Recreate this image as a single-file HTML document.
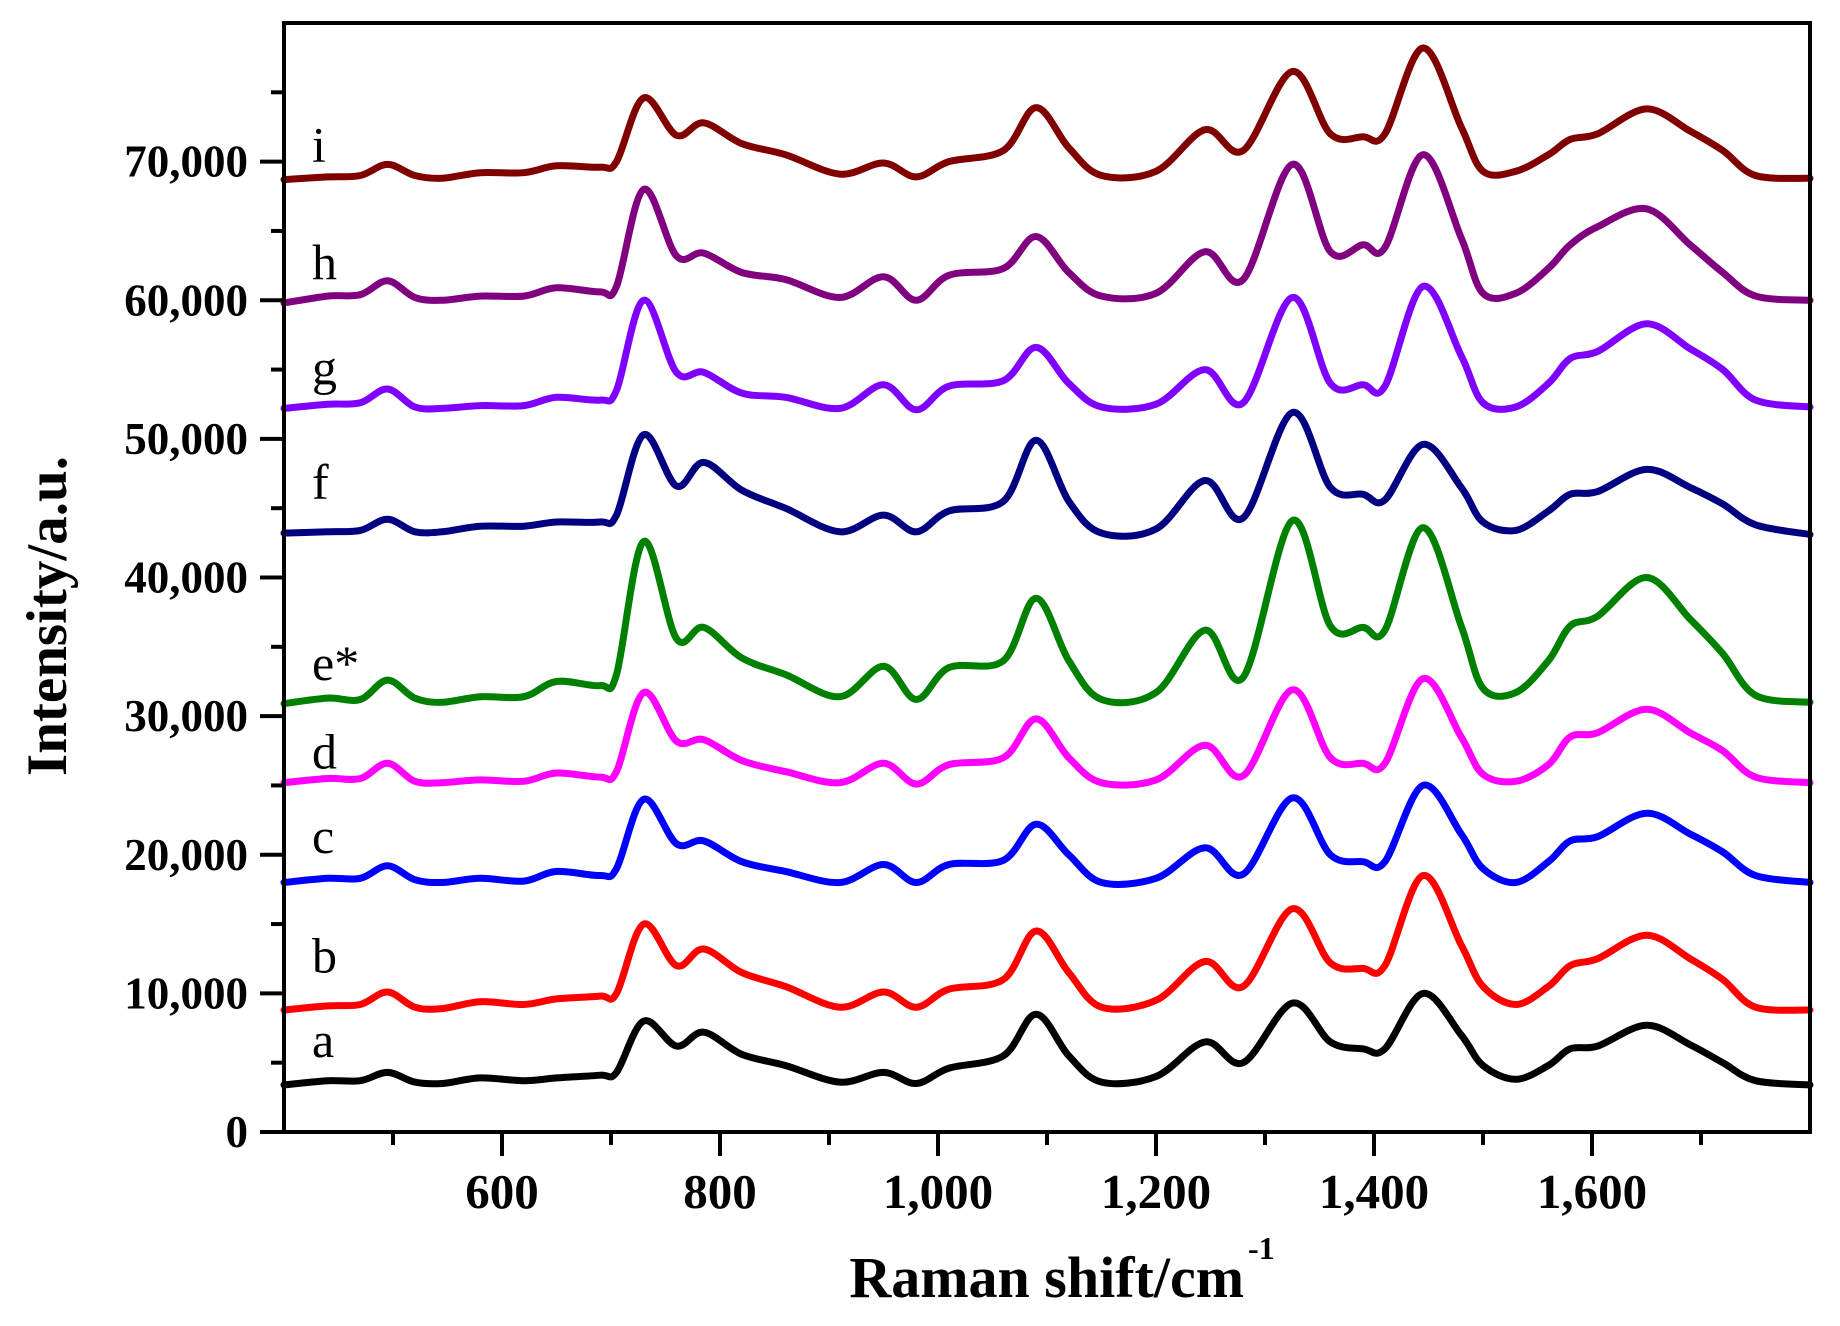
<!DOCTYPE html>
<html><head><meta charset="utf-8"><style>
html,body{margin:0;padding:0;background:#fff;}
svg{display:block;}
text{font-family:"Liberation Serif",serif;}
</style></head><body>
<svg id="chart" width="1840" height="1326" viewBox="0 0 1840 1326" xmlns="http://www.w3.org/2000/svg">
<g id="series"></g>
<g id="axes"></g>
<g id="labels"></g>
<text x="1062" y="1297" font-size="58" font-weight="bold" text-anchor="middle">Raman shift/cm<tspan font-size="32" dy="-38" dx="4">-1</tspan></text>
<text transform="translate(66,616) rotate(-90)" font-size="57" font-weight="bold" text-anchor="middle">Intensity/a.u.</text>
</svg>
<script>
const shifts=[400,440,470,495,520,545,580,620,650,690,705,730,760,785,820,860,910,950,980,1010,1060,1090,1120,1150,1200,1245,1280,1325,1360,1390,1410,1445,1480,1500,1530,1560,1580,1605,1650,1690,1720,1750,1800];
const seriesNames=["a","b","c","d","e*","f","g","h","i"];
const seriesColors=["#000000","#ff0000","#0000ff","#ff00ff","#008000","#000080","#8000ff","#800080","#800000"];
const sA=[3.4,3.7,3.7,4.3,3.6,3.5,3.9,3.7,3.9,4.1,4.3,8.0,6.2,7.2,5.6,4.8,3.6,4.3,3.5,4.6,5.5,8.5,5.5,3.6,4.0,6.5,5.0,9.3,6.5,6.0,6.0,10.0,7.0,4.8,3.8,4.8,6.0,6.2,7.7,6.3,5.0,3.7,3.4];
const sB=[8.8,9.1,9.2,10.1,9.0,8.9,9.4,9.2,9.6,9.8,10.0,15.0,12.0,13.2,11.5,10.5,9.0,10.1,9.0,10.3,11.0,14.5,11.5,9.0,9.5,12.3,10.5,16.1,12.2,11.8,12.0,18.5,13.5,10.5,9.2,10.5,12.0,12.5,14.2,12.5,11.0,9.0,8.8];
const sC=[18.0,18.3,18.3,19.2,18.2,18.0,18.3,18.1,18.8,18.5,19.0,24.0,20.8,21.0,19.5,18.8,18.0,19.3,18.0,19.3,19.6,22.2,20.0,18.0,18.3,20.5,18.6,24.1,20.0,19.5,19.5,25.0,21.5,19.0,18.0,19.5,21.0,21.3,23.0,21.5,20.2,18.5,18.0];
const sD=[25.2,25.5,25.5,26.6,25.3,25.2,25.4,25.3,25.9,25.6,26.0,31.7,28.2,28.3,26.8,26.0,25.2,26.6,25.1,26.5,27.0,29.8,27.0,25.2,25.4,27.9,25.7,31.9,27.0,26.6,26.6,32.7,28.5,25.8,25.3,26.5,28.5,28.8,30.5,28.8,27.5,25.6,25.2];
const sE=[30.9,31.3,31.2,32.6,31.3,31.0,31.4,31.4,32.5,32.2,33.0,42.6,35.6,36.4,34.2,33.0,31.4,33.6,31.2,33.5,34.0,38.5,34.0,31.2,31.7,36.2,32.8,44.1,36.5,36.4,36.2,43.6,36.5,32.0,31.7,34.0,36.5,37.2,40.0,37.0,34.5,31.5,31.0];
const sF=[43.2,43.3,43.4,44.2,43.3,43.3,43.7,43.7,44.0,44.0,44.5,50.3,46.6,48.3,46.3,45.0,43.3,44.5,43.3,44.8,45.5,49.9,45.5,43.2,43.5,47.0,44.3,51.9,46.5,46.0,45.6,49.6,46.5,44.0,43.4,44.8,46.0,46.2,47.8,46.5,45.3,43.8,43.1];
const sG=[52.2,52.5,52.6,53.6,52.3,52.2,52.4,52.4,53.0,52.8,53.5,60.0,54.8,54.8,53.3,53.0,52.2,53.9,52.1,53.8,54.2,56.6,54.0,52.3,52.5,55.0,52.6,60.2,54.0,53.9,53.8,61.0,56.0,52.6,52.3,54.0,55.8,56.3,58.3,56.5,55.0,52.8,52.3];
const sH=[59.8,60.3,60.4,61.4,60.2,60.0,60.3,60.3,60.9,60.6,61.0,68.0,63.2,63.4,62.0,61.5,60.2,61.7,60.0,61.8,62.3,64.6,62.0,60.3,60.5,63.5,61.5,69.8,63.5,64.0,63.8,70.5,64.5,60.5,60.5,62.3,64.0,65.3,66.6,64.0,62.0,60.3,60.0];
const sI=[68.7,68.9,69.0,69.8,69.0,68.8,69.2,69.2,69.7,69.6,70.0,74.6,71.9,72.8,71.3,70.5,69.1,69.9,68.9,70.0,70.8,73.9,71.0,69.0,69.3,72.3,70.8,76.5,72.0,71.8,72.0,78.2,72.5,69.3,69.3,70.5,71.6,72.0,73.8,72.2,70.8,69.0,68.8];
const allSeries=[sA,sB,sC,sD,sE,sF,sG,sH,sI];
const yTickValues=[0,10000,20000,30000,40000,50000,60000,70000];
const yTickLabels=["0","10,000","20,000","30,000","40,000","50,000","60,000","70,000"];
const xTickValues=[600,800,1000,1200,1400,1600];
const xTickLabels=["600","800","1,000","1,200","1,400","1,600"];
const labelValues=[6.5,12.6,21.2,27.3,33.7,46.75,55.0,62.6,71.1];

const X0=284,X1=1810,Y0=1132,Y1=23;
const xMin=400,xMax=1800,yMin=0,yMax=80000;
function xs(v){return X0+(v-xMin)/(xMax-xMin)*(X1-X0);}
function ys(v){return Y0-(v-yMin)/(yMax-yMin)*(Y0-Y1);}
const NS="http://www.w3.org/2000/svg";
function mk(tag,attrs,parent){const e=document.createElementNS(NS,tag);for(const k in attrs)e.setAttribute(k,attrs[k]);parent.appendChild(e);return e;}

const gS=document.getElementById('series');
allSeries.forEach((vals,si)=>{
  const pts=vals.map((v,i)=>[xs(shifts[i]),ys(v*1000)]);
  let d="M"+pts[0][0].toFixed(1)+","+pts[0][1].toFixed(1);
  for(let i=0;i<pts.length-1;i++){
    const p0=pts[Math.max(0,i-1)],p1=pts[i],p2=pts[i+1],p3=pts[Math.min(pts.length-1,i+2)];
    const c1=[p1[0]+(p2[0]-p0[0])/6,p1[1]+(p2[1]-p0[1])/6];
    const c2=[p2[0]-(p3[0]-p1[0])/6,p2[1]-(p3[1]-p1[1])/6];
    d+=" C"+c1[0].toFixed(1)+","+c1[1].toFixed(1)+" "+c2[0].toFixed(1)+","+c2[1].toFixed(1)+" "+p2[0].toFixed(1)+","+p2[1].toFixed(1);
  }
  const p=mk('path',{d:d,fill:'none',stroke:seriesColors[si],'stroke-width':7,'stroke-linejoin':'round','stroke-linecap':'round'},gS);
  
  
});

const gA=document.getElementById('axes');
const frame=mk('rect',{x:X0,y:Y1,width:X1-X0,height:Y0-Y1,fill:'none',stroke:'#000','stroke-width':4},gA);


for(let v=5000;v<=75000;v+=5000){
  const major=v%10000===0;
  const t=mk('line',{x1:X0-(major?24:13),x2:X0,y1:ys(v),y2:ys(v),stroke:'#000','stroke-width':4},gA);
  
  
}
mk('line',{x1:X0-24,x2:X0,y1:Y0,y2:Y0,stroke:'#000','stroke-width':4},gA);
yTickValues.forEach((v,i)=>{
  const t=mk('text',{x:248,y:ys(v)+15,'font-size':45,'font-weight':'bold','text-anchor':'end'},gA);
  t.textContent=yTickLabels[i];
  
  
});
for(let v=500;v<=1700;v+=100){
  const major=v%200===0;
  const t=mk('line',{x1:xs(v),x2:xs(v),y1:Y0,y2:Y0+(major?24:13),stroke:'#000','stroke-width':4},gA);
  
  
}
xTickValues.forEach((v,i)=>{
  const t=mk('text',{x:xs(v),y:1208,'font-size':49,'font-weight':'bold','text-anchor':'middle'},gA);
  t.textContent=xTickLabels[i];
  
  
});

const gL=document.getElementById('labels');
seriesNames.forEach((n,i)=>{
  const t=mk('text',{x:312,y:ys(labelValues[i]*1000)+15,'font-size':50},gL);
  t.textContent=n;
  
  
});
</script>
</body></html>
